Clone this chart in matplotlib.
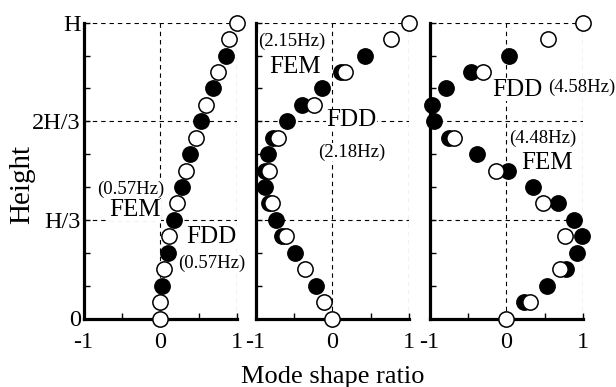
import matplotlib
matplotlib.use("Agg")
import matplotlib.pyplot as plt
import numpy as np

plt.rcParams['font.family'] = ['Liberation Serif', 'DejaVu Serif']

# Heights in units of H (k/18)
# Panel 1 (1st mode)
open_k1 = [0, 1, 3, 5, 7, 9, 11, 13, 15, 17, 18]
open_x1 = [0.0, 0.0, 0.05, 0.11, 0.22, 0.33, 0.46, 0.60, 0.75, 0.90, 1.0]
filled_k1 = [2, 4, 6, 8, 10, 12, 14, 16]
filled_x1 = [0.02, 0.10, 0.175, 0.28, 0.39, 0.535, 0.69, 0.855]

# Panel 2 (2nd mode)
open_k2 = [0, 1, 3, 5, 7, 9, 11, 13, 15, 17, 18]
open_x2 = [0.0, -0.11, -0.35, -0.60, -0.78, -0.82, -0.71, -0.24, 0.17, 0.76, 1.0]
filled_k2 = [2, 4, 5, 6, 7, 8, 9, 10, 11, 12, 13, 14, 15, 16]
filled_x2 = [-0.21, -0.485, -0.65, -0.73, -0.83, -0.875, -0.88, -0.84, -0.77,
             -0.585, -0.39, -0.13, 0.11, 0.43]

# Panel 3 (3rd mode)
open_k3 = [0, 1, 3, 5, 7, 9, 11, 15, 17, 18]
open_x3 = [0.0, 0.31, 0.70, 0.77, 0.485, -0.13, -0.68, -0.30, 0.55, 1.0]
filled_k3 = [1, 2, 3, 4, 5, 6, 7, 8, 9, 10, 11, 12, 13, 14, 15, 16]
filled_x3 = [0.235, 0.53, 0.78, 0.92, 0.985, 0.885, 0.67, 0.35, 0.017, -0.38,
             -0.745, -0.935, -0.965, -0.78, -0.46, 0.03]

ytick_labels = ["0", "H/3", "2H/3", "H"]
xtick_labels = ["-1", "0", "1"]

panels = [
    dict(ok=open_k1, ox=open_x1, fk=filled_k1, fx=filled_x1,
         texts=[("(0.57Hz)", -0.39, 0.437, 13.5), ("FEM", -0.33, 0.366, 18),
                ("FDD", 0.67, 0.275, 18), ("(0.57Hz)", 0.67, 0.185, 13.5)]),
    dict(ok=open_k2, ox=open_x2, fk=filled_k2, fx=filled_x2,
         texts=[("(2.15Hz)", -0.53, 0.936, 13.5), ("FEM", -0.49, 0.851, 18),
                ("FDD", 0.25, 0.67, 18), ("(2.18Hz)", 0.25, 0.563, 13.5)]),
    dict(ok=open_k3, ox=open_x3, fk=filled_k3, fx=filled_x3,
         texts=[("FDD", 0.14, 0.772, 18), ("(4.58Hz)", 0.99, 0.78, 13.5),
                ("(4.48Hz)", 0.47, 0.61, 13.5), ("FEM", 0.53, 0.525, 18)]),
]

W, Hh = 616, 387
fig = plt.figure(figsize=(W / 100, Hh / 100), dpi=100)
lefts = [83.5, 255.5, 429.5]
pw = 153.5
bottom = 1 - 318.5 / Hh
height = (318.5 - 22.7) / Hh

for i, p in enumerate(panels):
    ax = fig.add_axes([lefts[i] / W, bottom, pw / W, height])
    ax.set_xlim(-1, 1)
    ax.set_ylim(0, 1)
    for s in ['top', 'right']:
        ax.spines[s].set_visible(False)
    ax.spines['left'].set_linewidth(2.3)
    ax.spines['bottom'].set_linewidth(2.3)
    dash = (0, (4, 3.5))
    for yv in [1/3, 2/3, 1.0]:
        ax.axhline(yv, color='black', lw=0.8, ls=dash, zorder=1)
    for xv in [0.0, 1.0]:
        ax.axvline(xv, color='black', lw=0.8, ls=dash, zorder=1)

    ax.set_yticks(np.arange(10) / 9)
    if i == 0:
        ax.set_yticklabels([ytick_labels[k // 3] if k % 3 == 0 else "" for k in range(10)],
                           fontsize=17.5)
    else:
        ax.set_yticklabels([])
    ax.set_xticks([-1, -0.5, 0, 0.5, 1])
    ax.set_xticklabels(["-1", "", "0", "", "1"], fontsize=17.5)
    ax.tick_params(axis='y', direction='in', length=4, width=1, pad=2)
    ax.tick_params(axis='x', direction='in', length=4, width=1, pad=10)

    fy = np.array(p['fk']) / 18
    oy = np.array(p['ok']) / 18
    ax.plot(p['fx'], fy, 'o', ms=11, mfc='black', mec='black', mew=1.1,
            clip_on=False, zorder=5)
    ax.plot(p['ox'], oy, 'o', ms=11, mfc='white', mec='black', mew=1.1,
            clip_on=False, zorder=6)
    for t, x, y, fs in p['texts']:
        ax.text(x, y, t, fontsize=fs, ha='center', va='center', zorder=4,
                bbox=dict(facecolor='white', edgecolor='none', pad=0))

fig.text(333 / W, 1 - 377 / Hh, "Mode shape ratio", fontsize=19, ha='center', va='center')
fig.text(22 / W, 1 - 185 / Hh, "Height", fontsize=21, ha='center', va='center', rotation=90)

fig.savefig("out.png", dpi=100)
